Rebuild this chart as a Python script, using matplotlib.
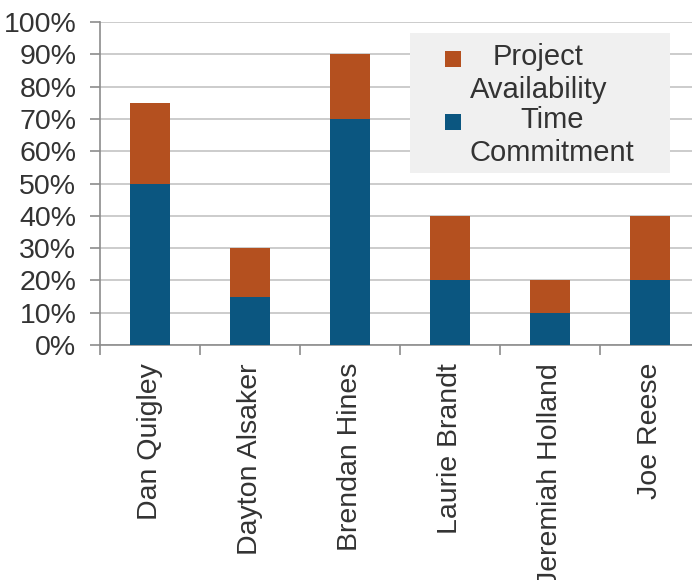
import matplotlib
matplotlib.use("Agg")
import matplotlib.pyplot as plt
from matplotlib.patches import Rectangle
from matplotlib.ticker import FuncFormatter

names = ["Dan Quigley", "Dayton Alsaker", "Brendan Hines",
         "Laurie Brandt", "Jeremiah Holland", "Joe Reese"]
time_commitment = [50, 15, 70, 20, 10, 20]
project_availability = [25, 15, 20, 20, 10, 20]

blue = "#0B5680"
orange = "#B4501F"
axis_grey = "#8C8C8C"
text_grey = "#333333"
fs = 20.5
legend_fs = 21

plt.rcParams["font.family"] = ["Liberation Sans", "DejaVu Sans"]

fig = plt.figure(figsize=(6.92, 5.8), dpi=100)
ax = fig.add_axes([100 / 692, 1 - 345 / 580, 600 / 692, (345 - 22) / 580])

x = list(range(len(names)))
ax.bar(x, time_commitment, width=0.4, color=blue, label="Time\nCommitment", zorder=3)
ax.bar(x, project_availability, width=0.4, bottom=time_commitment, color=orange,
       label="Project\nAvailability", zorder=3)

ax.set_xlim(-0.5, len(names) - 0.5)
ax.set_ylim(0, 100)
ax.set_yticks(range(0, 101, 10))
ax.yaxis.set_major_formatter(FuncFormatter(lambda v, _: f"{int(v)}%"))
ax.yaxis.grid(True, color="#C4C4C4", linewidth=1.2, zorder=0)

ax.set_xticks(x)
ax.set_xticklabels(names, rotation=90)
ax.set_xticks([i - 0.5 for i in range(len(names) + 1)], minor=True)
ax.tick_params(axis="x", which="major", length=0, pad=13)
ax.tick_params(axis="x", which="minor", length=7, color=axis_grey, width=1.2)
ax.tick_params(axis="y", length=7, color=axis_grey, width=1.2, pad=10)
ax.tick_params(labelsize=fs, labelcolor=text_grey)

for side in ("top", "right"):
    ax.spines[side].set_visible(False)
for side in ("left", "bottom"):
    ax.spines[side].set_color(axis_grey)
    ax.spines[side].set_linewidth(1.2)

handles, labels = ax.get_legend_handles_labels()
leg = ax.legend(handles[::-1], labels[::-1], loc="upper left",
                bbox_to_anchor=(345 / 600, 1 - 21 / 323), fontsize=legend_fs,
                frameon=False, handlelength=0.55, handleheight=2.5,
                handletextpad=0.3, labelspacing=0.05, borderpad=0, borderaxespad=0)
leg.set_zorder(6)
for t in leg.get_texts():
    t.set_multialignment("center")
    t.set_linespacing(1.25)
    t.set_color(text_grey)

# put each swatch beside the first line of its two-line label
for p in leg.legend_handles:
    h = p.get_height()
    w = p.get_width()
    p.set_y(p.get_y() + h * 0.66)
    p.set_height(w)

# light panel behind the legend, with wide side margins
fig.canvas.draw()
bb = leg.get_window_extent().transformed(ax.transAxes.inverted())
px = 35 / 600
pad_top = 10 / 323
pad_bottom = 6 / 323
ax.add_patch(Rectangle((bb.x0 - px, bb.y0 - pad_bottom), bb.width + 2 * px,
                       bb.height + pad_top + pad_bottom,
                       transform=ax.transAxes, facecolor="#F0F0F0", edgecolor="none",
                       clip_on=False, zorder=5))

fig.savefig("out.png", dpi=100)
